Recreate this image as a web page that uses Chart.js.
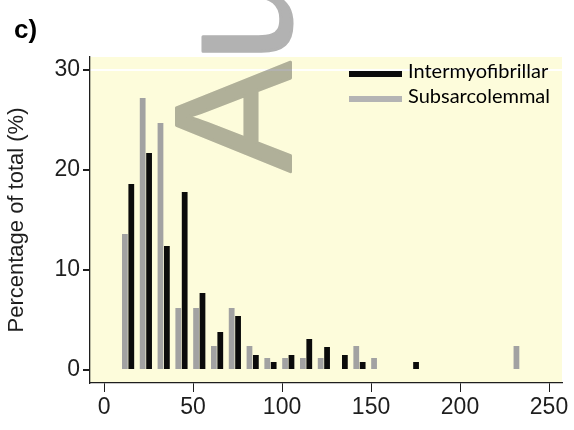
<!DOCTYPE html>
<html>
<head>
<meta charset="utf-8">
<script src="https://cdn.jsdelivr.net/npm/chart.js@4"></script>
<style>
  html, body { margin: 0; padding: 0; background: #fff; }
  #wrap { width: 574px; height: 430px; }
</style>
</head>
<body>
<div id="wrap"><canvas id="chart" width="574" height="430"></canvas></div>
<script>
// ── data ──────────────────────────────────
// mid-points of the size classes
const binMids = [13.5, 23.5, 33.5, 43.5, 53.5, 63.5, 73.5, 83.5, 93.5, 103.5, 113.5, 123.5,
                 133.5, 143.5, 153.5, 163.5, 173.5, 183.5, 193.5, 203.5, 213.5, 223.5, 233.5];
// percentage of total per class
const intermyofibrillar = [18.6, 21.7, 12.4, 17.8, 7.7, 3.8, 5.4, 1.5, 0.8, 1.5, 3.1, 2.3,
                           1.5, 0.8, 0, 0, 0.8, 0, 0, 0, 0, 0, 0];
const subsarcolemmal = [13.6, 27.2, 24.7, 6.2, 6.2, 2.4, 6.2, 2.4, 1.2, 1.2, 1.2, 1.2,
                        0, 2.4, 1.2, 0, 0, 0, 0, 0, 0, 0, 2.4];
const xTicks = [0, 50, 100, 150, 200, 250];
const yTicks = [0, 10, 20, 30];

const FONT = "'Liberation Sans', Arial, sans-serif";
const INK = '#1e1e1e';

const toPoints = vals => binMids.map((x, i) => ({ x, y: vals[i] }));

// pale yellow plot region
const plotBg = {
    id: 'plotBg',
    beforeDraw(chart) {
        const { ctx, chartArea: a } = chart;
        ctx.save();
        ctx.fillStyle = '#fdfcdb';
        ctx.fillRect(a.left, a.top, a.right - a.left, a.bottom - a.top);
        ctx.restore();
    }
};

// panel letter, legend, watermark
const extras = {
    id: 'extras',
    afterDraw(chart) {
        const ctx = chart.ctx;
        ctx.save();
        ctx.fillStyle = '#000';
        ctx.font = 'bold 26px ' + FONT;
        ctx.textBaseline = 'alphabetic';
        ctx.fillText('c)', 14, 38);

        // legend
        const items = [
            { label: 'Intermyofibrillar', color: '#0b0b0b', y: 74 },
            { label: 'Subsarcolemmal', color: '#b4b4b4', y: 99 }
        ];
        ctx.font = '20px Lato, ' + FONT;
        ctx.textBaseline = 'middle';
        items.forEach(it => {
            ctx.fillStyle = it.color;
            ctx.fillRect(349, it.y - 3, 53, 6);
            ctx.fillStyle = '#000';
            ctx.fillText(it.label, 408, it.y - 2);
        });

        // watermark: drawn on its own layer, then multiplied over the chart
        const layer = document.createElement('canvas');
        layer.width = chart.width;
        layer.height = chart.height;
        const lc = layer.getContext('2d');
        lc.translate(290, 172);
        lc.rotate(-Math.PI / 2);
        lc.fillStyle = lc.strokeStyle = '#b2b2b2';
        lc.lineWidth = 3;
        lc.lineJoin = 'round';
        lc.font = '165px ' + FONT;
        lc.fillText('Author Manuscript', 0, 0);
        lc.strokeText('Author Manuscript', 0, 0);
        ctx.globalCompositeOperation = 'multiply';
        ctx.drawImage(layer, 0, 0);
        ctx.restore();
    }
};

new Chart(document.getElementById('chart'), {
    type: 'bar',
    data: {
        datasets: [
            { label: 'Subsarcolemmal', data: toPoints(subsarcolemmal), backgroundColor: '#a2a2a2' },
            { label: 'Intermyofibrillar', data: toPoints(intermyofibrillar), backgroundColor: '#0b0b0b' }
        ]
    },
    options: {
        responsive: false,
        animation: false,
        datasets: { bar: { categoryPercentage: 0.72, barPercentage: 0.9 } },
        layout: { padding: { top: 57, right: 12, left: 0, bottom: 0 } },
        plugins: { legend: { display: false }, tooltip: { enabled: false } },
        scales: {
            x: {
                type: 'linear', min: -7.9, max: 257.3, offset: false,
                afterBuildTicks: s => { s.ticks = xTicks.map(v => ({ value: v })); },
                afterFit: s => { s.height = 47; },
                grid: { offset: false, color: 'transparent', tickColor: INK, tickLength: 9 },
                border: { color: INK, width: 1.3 },
                ticks: { color: INK, font: { family: FONT, size: 23 }, padding: 2, maxRotation: 0 }
            },
            y: {
                min: -1.3, max: 31.3,
                afterBuildTicks: s => { s.ticks = yTicks.map(v => ({ value: v })); },
                afterFit: s => { s.width = 90; },
                grid: {
                    color: c => (c.tick && c.tick.value === 30) ? 'rgba(255,255,255,0.95)' : 'transparent',
                    lineWidth: 2, tickColor: INK, tickLength: 7
                },
                border: { color: INK, width: 1.3 },
                ticks: { color: INK, font: { family: FONT, size: 23 }, padding: 3 },
                title: {
                    display: true, text: 'Percentage of total (%)', color: INK,
                    font: { family: FONT, size: 22 }, padding: { top: 4, bottom: 0 }
                }
            }
        }
    },
    plugins: [plotBg, extras]
});
</script>
</body>
</html>
